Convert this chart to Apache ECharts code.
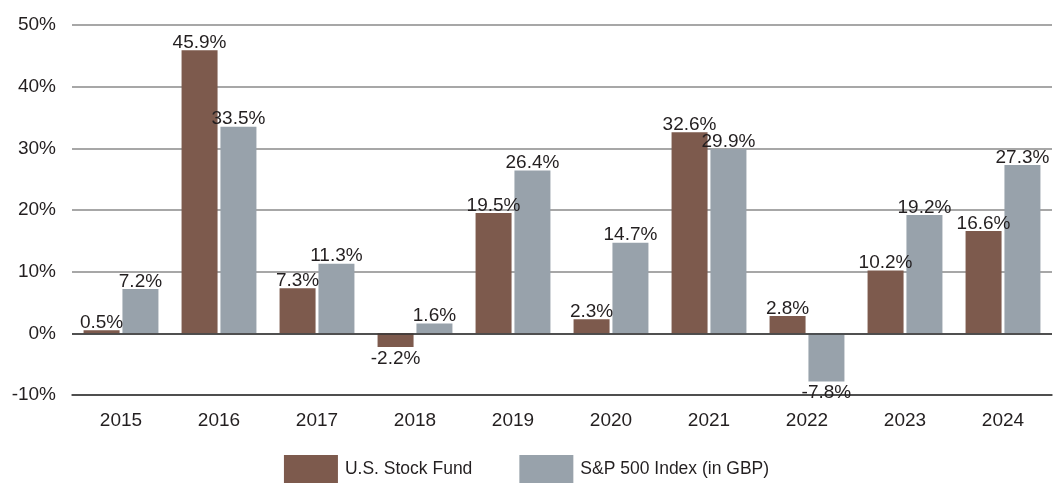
<!DOCTYPE html>
<html>
<head>
<meta charset="utf-8">
<script src="https://cdn.jsdelivr.net/npm/echarts@6/dist/echarts.min.js"></script>
<style>
  html, body { margin: 0; padding: 0; background: #fff; }
  #chart { width: 1053px; height: 485px; }
</style>
</head>
<body>
<div id="chart"></div>
<script>
const years = ['2015', '2016', '2017', '2018', '2019', '2020', '2021', '2022', '2023', '2024']
const fundReturns = [0.5, 45.9, 7.3, -2.2, 19.5, 2.3, 32.6, 2.8, 10.2, 16.6]
const indexReturns = [7.2, 33.5, 11.3, 1.6, 26.4, 14.7, 29.9, -7.8, 19.2, 27.3]
const seriesNames = ['U.S. Stock Fund', 'S&P 500 Index (in GBP)']

const FONT = '"Liberation Sans", Arial, sans-serif'
const TEXT = '#231f20'

// negative values get their label under the bar
function withLabels(values) {
  return values.map(v => ({
    value: v,
    label: { position: v < 0 ? 'bottom' : 'top', distance: v < 0 ? 2 : -2 }
  }))
}

const chart = echarts.init(document.getElementById('chart'))
chart.setOption({
  animation: false,
  textStyle: { fontFamily: FONT },
  grid: { left: 72, right: 1, top: 25, bottom: 90 },
  legend: {
    bottom: -3,
    left: 'center',
    itemWidth: 54,
    itemHeight: 28,
    itemGap: 47,
    icon: 'rect',
    textStyle: { fontSize: 17.5, color: TEXT, fontFamily: FONT, padding: [0, 0, 0, 2] },
    data: seriesNames
  },
  xAxis: {
    type: 'category',
    data: years,
    axisLine: { onZero: false, lineStyle: { color: '#333', width: 1.5 } },
    axisTick: { show: false },
    axisLabel: { fontSize: 19, color: TEXT, margin: 16, fontFamily: FONT }
  },
  yAxis: {
    type: 'value',
    min: -10,
    max: 50,
    interval: 10,
    axisLine: { show: false },
    axisTick: { show: false },
    axisLabel: { formatter: '{value}%', fontSize: 19, color: TEXT, margin: 16, fontFamily: FONT },
    splitLine: { lineStyle: { color: '#8a8a8a', width: 1.5 } }
  },
  series: [
    {
      name: seriesNames[0],
      type: 'bar',
      barWidth: 36,
      barGap: '8%',
      itemStyle: { color: '#7d5a4d' },
      label: { show: true, formatter: '{c}%', fontSize: 19, color: TEXT, fontFamily: FONT },
      data: withLabels(fundReturns),
      markLine: {
        silent: true,
        symbol: 'none',
        label: { show: false },
        lineStyle: { color: '#333', width: 1.5, type: 'solid' },
        data: [{ yAxis: 0 }]
      }
    },
    {
      name: seriesNames[1],
      type: 'bar',
      barWidth: 36,
      itemStyle: { color: '#98a2ab' },
      label: { show: true, formatter: '{c}%', fontSize: 19, color: TEXT, fontFamily: FONT },
      data: withLabels(indexReturns)
    }
  ]
})
</script>
</body>
</html>
